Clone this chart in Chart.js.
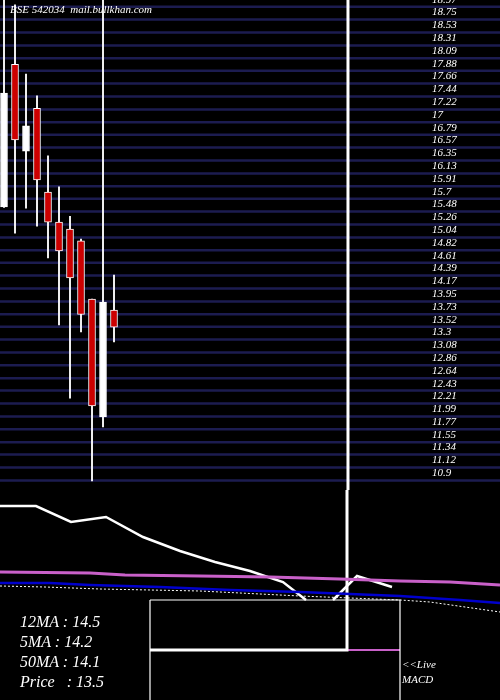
<!DOCTYPE html>
<html><head><meta charset="utf-8">
<script src="https://cdn.jsdelivr.net/npm/chart.js@4.4.0/dist/chart.umd.min.js"></script>
<style>
body{margin:0;background:#000;width:500px;height:700px;overflow:hidden;position:relative;font-family:"Liberation Serif",serif;font-style:italic;color:#fff}
#c1{position:absolute;left:0;top:0}
#c2{position:absolute;left:0;top:490px}
.t{position:absolute;white-space:pre}
</style></head><body>
<canvas id="c1" width="500" height="490"></canvas>
<canvas id="c2" width="500" height="210"></canvas>
<div class="t" style="left:10px;top:3px;font-size:11px">BSE 542034  mail.bullkhan.com</div>
<div class="t" style="left:20px;top:613px;font-size:16px">12MA : 14.5</div>
<div class="t" style="left:20px;top:633px;font-size:16px">5MA : 14.2</div>
<div class="t" style="left:20px;top:653px;font-size:16px">50MA : 14.1</div>
<div class="t" style="left:20px;top:673px;font-size:16px">Price   : 13.5</div>
<div class="t" style="left:402px;top:658px;font-size:11px">&lt;&lt;Live</div>
<div class="t" style="left:402px;top:673px;font-size:11px">MACD</div>
<script>
const tickLabels=["18.97","18.75","18.53","18.31","18.09","17.88","17.66","17.44","17.22","17","16.79","16.57","16.35","16.13","15.91","15.7","15.48","15.26","15.04","14.82","14.61","14.39","14.17","13.95","13.73","13.52","13.3","13.08","12.86","12.64","12.43","12.21","11.99","11.77","11.55","11.34","11.12","10.9"];
const opens =[15.56,17.99,16.51,17.24,15.81,15.30,15.18,14.98,13.99,11.98,13.80];
const closes=[17.50,16.70,16.94,16.02,15.30,14.81,14.35,13.73,12.17,13.94,13.51];
const highs =[19.20,19.00,17.82,17.45,16.43,15.90,15.40,15.01,13.99,19.20,14.40];
const lows  =[15.55,15.11,15.54,15.23,14.69,13.55,12.30,13.43,10.89,11.81,13.26];
const spikeX=31.27;
// lower panel (x px, y px offset in panel)
const macdLine=[[0,16],[36,16],[71,32],[106,27],[143,47],[180,61],[215,72],[250,81],[283,92],[306,110],null,[333,110],[357,86],[392,97]];
const ma12=[[0,82],[90,83],[125,85],[200,86],[270,87],[340,89],[400,91],[450,92],[500,95]];
const ma5=[[0,93],[50,93],[90,95],[160,97],[230,100],[300,102],[350,104],[400,106],[460,110],[500,113]];
const ma50=[[0,96],[45,97],[100,99],[200,101],[300,106],[400,110],[430,112],[500,122]];

const tickVals=tickLabels.map(Number);
const idx=opens.map((_,i)=>i);
const up=i=>closes[i]>=opens[i];
const gridPlugin={id:'g',beforeDatasetsDraw(ch){const c=ch.ctx,s=ch.scales.y;c.save();c.strokeStyle='#1c1c50';c.lineWidth=2.5;
 tickVals.forEach(v=>{const y=s.getPixelForValue(v);c.beginPath();c.moveTo(0,y);c.lineTo(500,y);c.stroke();});
 c.fillStyle='#fff';c.font='italic 11px "Liberation Serif"';c.textBaseline='middle';
 tickVals.forEach((v,i)=>{c.fillText(tickLabels[i],432,s.getPixelForValue(v)-7);});c.restore();}};
new Chart(document.getElementById('c1'),{type:'bar',plugins:[gridPlugin],
 data:{datasets:[
  {data:idx.map(i=>({x:i,y:[lows[i],highs[i]]})),backgroundColor:'#fff',barThickness:1.2,grouped:false,order:2},
  {data:idx.map(i=>({x:i,y:[opens[i],closes[i]]})),backgroundColor:idx.map(i=>up(i)?'#fff':'#cc0000'),borderColor:'#fff',borderWidth:1,borderSkipped:false,barThickness:7,grouped:false,order:1},
  {type:'line',data:[{x:spikeX,y:19.3},{x:spikeX,y:10.5}],borderColor:'#fff',borderWidth:3,pointRadius:0,order:0}
 ]},
 options:{animation:false,responsive:false,events:[],layout:{padding:0},plugins:{legend:{display:false},tooltip:{enabled:false}},
  scales:{x:{type:'linear',offset:false,min:-0.364,max:45.09,display:false},y:{min:10.737,max:19.084,display:false}}}});

const P=a=>a.map(p=>p?{x:p[0],y:p[1]}:{x:null,y:null});
new Chart(document.getElementById('c2'),{type:'line',
 data:{datasets:[
  {data:P(ma50),borderColor:'#fff',borderWidth:1,borderDash:[2,2],pointRadius:0},
  {data:P(ma5),borderColor:'#0000cc',borderWidth:2.5,pointRadius:0},
  {data:P(ma12),borderColor:'#c860c8',borderWidth:3,pointRadius:0},
  {data:P(macdLine),borderColor:'#fff',borderWidth:2.5,pointRadius:0,spanGaps:false},
  {data:P([[150,110],[400,110],[400,212],null,[150,212],[150,110]]),borderColor:'#fff',borderWidth:1.2,pointRadius:0},
  {data:P([[150,160],[347,160],[347,-5]]),borderColor:'#fff',borderWidth:3,pointRadius:0},
  {data:P([[347,160],[400,160]]),borderColor:'#c860c8',borderWidth:2,pointRadius:0}
 ]},
 options:{animation:false,responsive:false,events:[],layout:{padding:0},plugins:{legend:{display:false},tooltip:{enabled:false}},
  scales:{x:{type:'linear',min:0,max:500,display:false},y:{min:0,max:210,reverse:true,display:false}}}});
</script></body></html>
